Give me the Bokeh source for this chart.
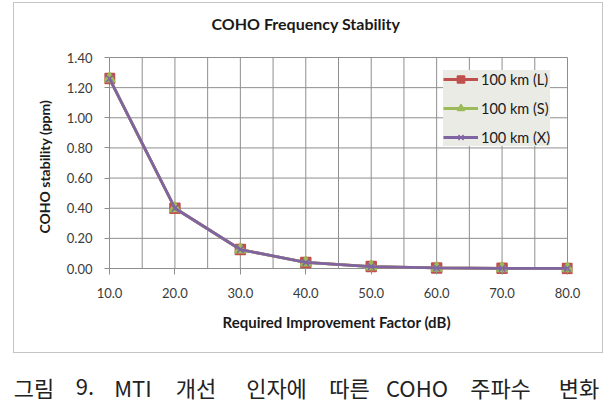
from bokeh.plotting import figure
from bokeh.models import (Range1d, FixedTicker, NumeralTickFormatter, Legend,
                          LegendItem, ColumnDataSource, Title)
from bokeh.layouts import column
from bokeh.embed import file_html
from bokeh.resources import INLINE
from bokeh.core.properties import value

# ---- data -------------------------------------------------------------
improvement_db = [10, 20, 30, 40, 50, 60, 70, 80]
stability_L = [1.26, 0.40, 0.126, 0.040, 0.013, 0.004, 0.0013, 0.0004]
stability_S = [1.26, 0.40, 0.126, 0.040, 0.013, 0.004, 0.0013, 0.0004]
stability_X = [1.26, 0.40, 0.126, 0.040, 0.013, 0.004, 0.0013, 0.0004]
series_names = ["100 km (L)", "100 km (S)", "100 km (X)"]

x_ticks = [10, 20, 30, 40, 50, 60, 70, 80]
x_gridlines = [10, 15, 20, 25, 30, 35, 40, 45, 50, 55, 60, 65, 70, 75, 80]
y_ticks = [0.0, 0.2, 0.4, 0.6, 0.8, 1.0, 1.2, 1.4]

chart_title = "COHO Frequency Stability"
x_title = "Required Improvement Factor  (dB)"
y_title = "COHO stability  (ppm)"
caption_words = ["그림", "9.", "MTI", "개선", "인자에", "따른", "COHO", "주파수", "변화"]

# ---- layout / style ---------------------------------------------------
FONT = "Lato"
GRID = "#8e8e8e"
COLORS = ["#c0504d", "#9bbb59", "#8064a2"]

X_MIN, X_MAX = x_ticks[0], x_ticks[-1]
Y_MIN, Y_MAX = y_ticks[0], y_ticks[-1]

# data region size in pixels; the frame is a few pixels larger on the
# left and bottom (that strip holds the tick marks) so that markers
# sitting on the axes are not cut off
AREA_W, AREA_H = 458, 211
PAD_L, PAD_R, PAD_T, PAD_B = 5, 5, 2, 6
x_scale = AREA_W / (X_MAX - X_MIN)
y_scale = AREA_H / (Y_MAX - Y_MIN)

FIG_W, FIG_H = 590, 351
BORDER_L, BORDER_T = 90, 52
frame_w = AREA_W + PAD_L + PAD_R
frame_h = AREA_H + PAD_T + PAD_B

p = figure(
    width=FIG_W, height=FIG_H,
    x_range=Range1d(X_MIN - PAD_L / x_scale, X_MAX + PAD_R / x_scale),
    y_range=Range1d(Y_MIN - PAD_B / y_scale, Y_MAX + PAD_T / y_scale),
    output_backend="svg", toolbar_location=None,
    min_border_left=BORDER_L, min_border_top=BORDER_T,
    min_border_right=FIG_W - BORDER_L - frame_w,
    min_border_bottom=FIG_H - BORDER_T - frame_h,
    background_fill_color="white", border_fill_color="white",
    outline_line_color=None,
)
p.margin = (2, 0, 0, 13)
p.styles = {"border": "1px solid #c4c4c4"}

p.xgrid.visible = False
p.ygrid.visible = False

# grid lines limited to the data region (x=10 and y=0 double as axis lines)
p.segment(x0=x_gridlines, x1=x_gridlines, y0=Y_MIN, y1=Y_MAX,
          line_color=GRID, line_width=1)
p.segment(x0=X_MIN, x1=X_MAX, y0=y_ticks, y1=y_ticks,
          line_color=GRID, line_width=1)

# title, with an empty spacer between it and the plot area
p.add_layout(Title(text=" ", text_font_size="1px", standoff=15), "above")
p.title.text = chart_title
p.title.align = "left"
p.title.offset = 107
p.title.text_font = FONT
p.title.text_font_size = "16px"
p.title.text_font_style = "bold"
p.title.text_color = "#1a1a1a"
p.title.standoff = 10

# axes: tick marks point inward across the padding strip
for ax in (p.xaxis[0], p.yaxis[0]):
    ax.axis_line_color = None
    ax.major_tick_line_color = GRID
    ax.major_tick_out = 0
    ax.minor_tick_in = 0
    ax.minor_tick_out = 0
    ax.major_label_text_font = FONT
    ax.major_label_text_font_size = "13px"
    ax.major_label_text_color = "#3a3a3a"
    ax.axis_label_text_font = FONT
    ax.axis_label_text_font_style = "bold"
    ax.axis_label_text_color = "#1a1a1a"

xa = p.xaxis[0]
xa.ticker = FixedTicker(ticks=x_ticks)
xa.formatter = NumeralTickFormatter(format="0.0")
xa.major_tick_in = PAD_B
xa.major_label_standoff = 13
xa.axis_label = x_title
xa.axis_label_text_font_size = "15px"
xa.axis_label_standoff = 12

ya = p.yaxis[0]
ya.ticker = FixedTicker(ticks=y_ticks)
ya.formatter = NumeralTickFormatter(format="0.00")
ya.major_tick_in = PAD_L
ya.major_label_standoff = 12
ya.axis_label = y_title
ya.axis_label_text_font_size = "14px"
ya.axis_label_standoff = 11

# series
source = ColumnDataSource(dict(x=improvement_db, L=stability_L,
                               S=stability_S, X=stability_X))
items = []
for name, col, color, marker, size in zip(
        series_names, ["L", "S", "X"], COLORS,
        ["square", "triangle", "x"], [10, 11, 9]):
    ln = p.line("x", col, source=source, line_color=color, line_width=2.8)
    mk = p.scatter("x", col, source=source, marker=marker, size=size,
                   fill_color=color, line_color=color, line_width=1.5)
    items.append(LegendItem(label=name, renderers=[ln, mk]))

legend = Legend(
    items=items, location=(339, 128),
    glyph_width=35, glyph_height=18, label_height=18, spacing=11,
    padding=5, margin=0, label_standoff=3,
    label_text_font=FONT, label_text_font_size="14.5px",
    label_text_color="#1a1a1a",
    background_fill_color="#ebebe6", background_fill_alpha=1.0,
    border_line_color=None,
)
p.add_layout(legend)

# ---- figure caption ---------------------------------------------------
cap_w, cap_h = 610, 51
word_centers = [33.5, 84.5, 132.5, 195.5, 276, 349, 416.5, 500, 578.5]
cap = figure(width=cap_w, height=cap_h, x_range=Range1d(0, cap_w),
             y_range=Range1d(0, cap_h), output_backend="svg",
             toolbar_location=None, x_axis_location=None,
             y_axis_location=None, min_border=0, min_border_left=0,
             min_border_right=0, min_border_top=0, min_border_bottom=0,
             outline_line_color=None, border_fill_color="white")
cap.grid.visible = False
cap.text(x=word_centers, y=[18] * len(caption_words), text=caption_words,
         text_align="center", text_baseline="middle",
         text_font=value("Noto Sans CJK KR"), text_font_size="22px",
         text_color="#222222")

layout = column(column(p), column(cap), spacing=0)
open("out.html", "w").write(file_html(layout, INLINE))
